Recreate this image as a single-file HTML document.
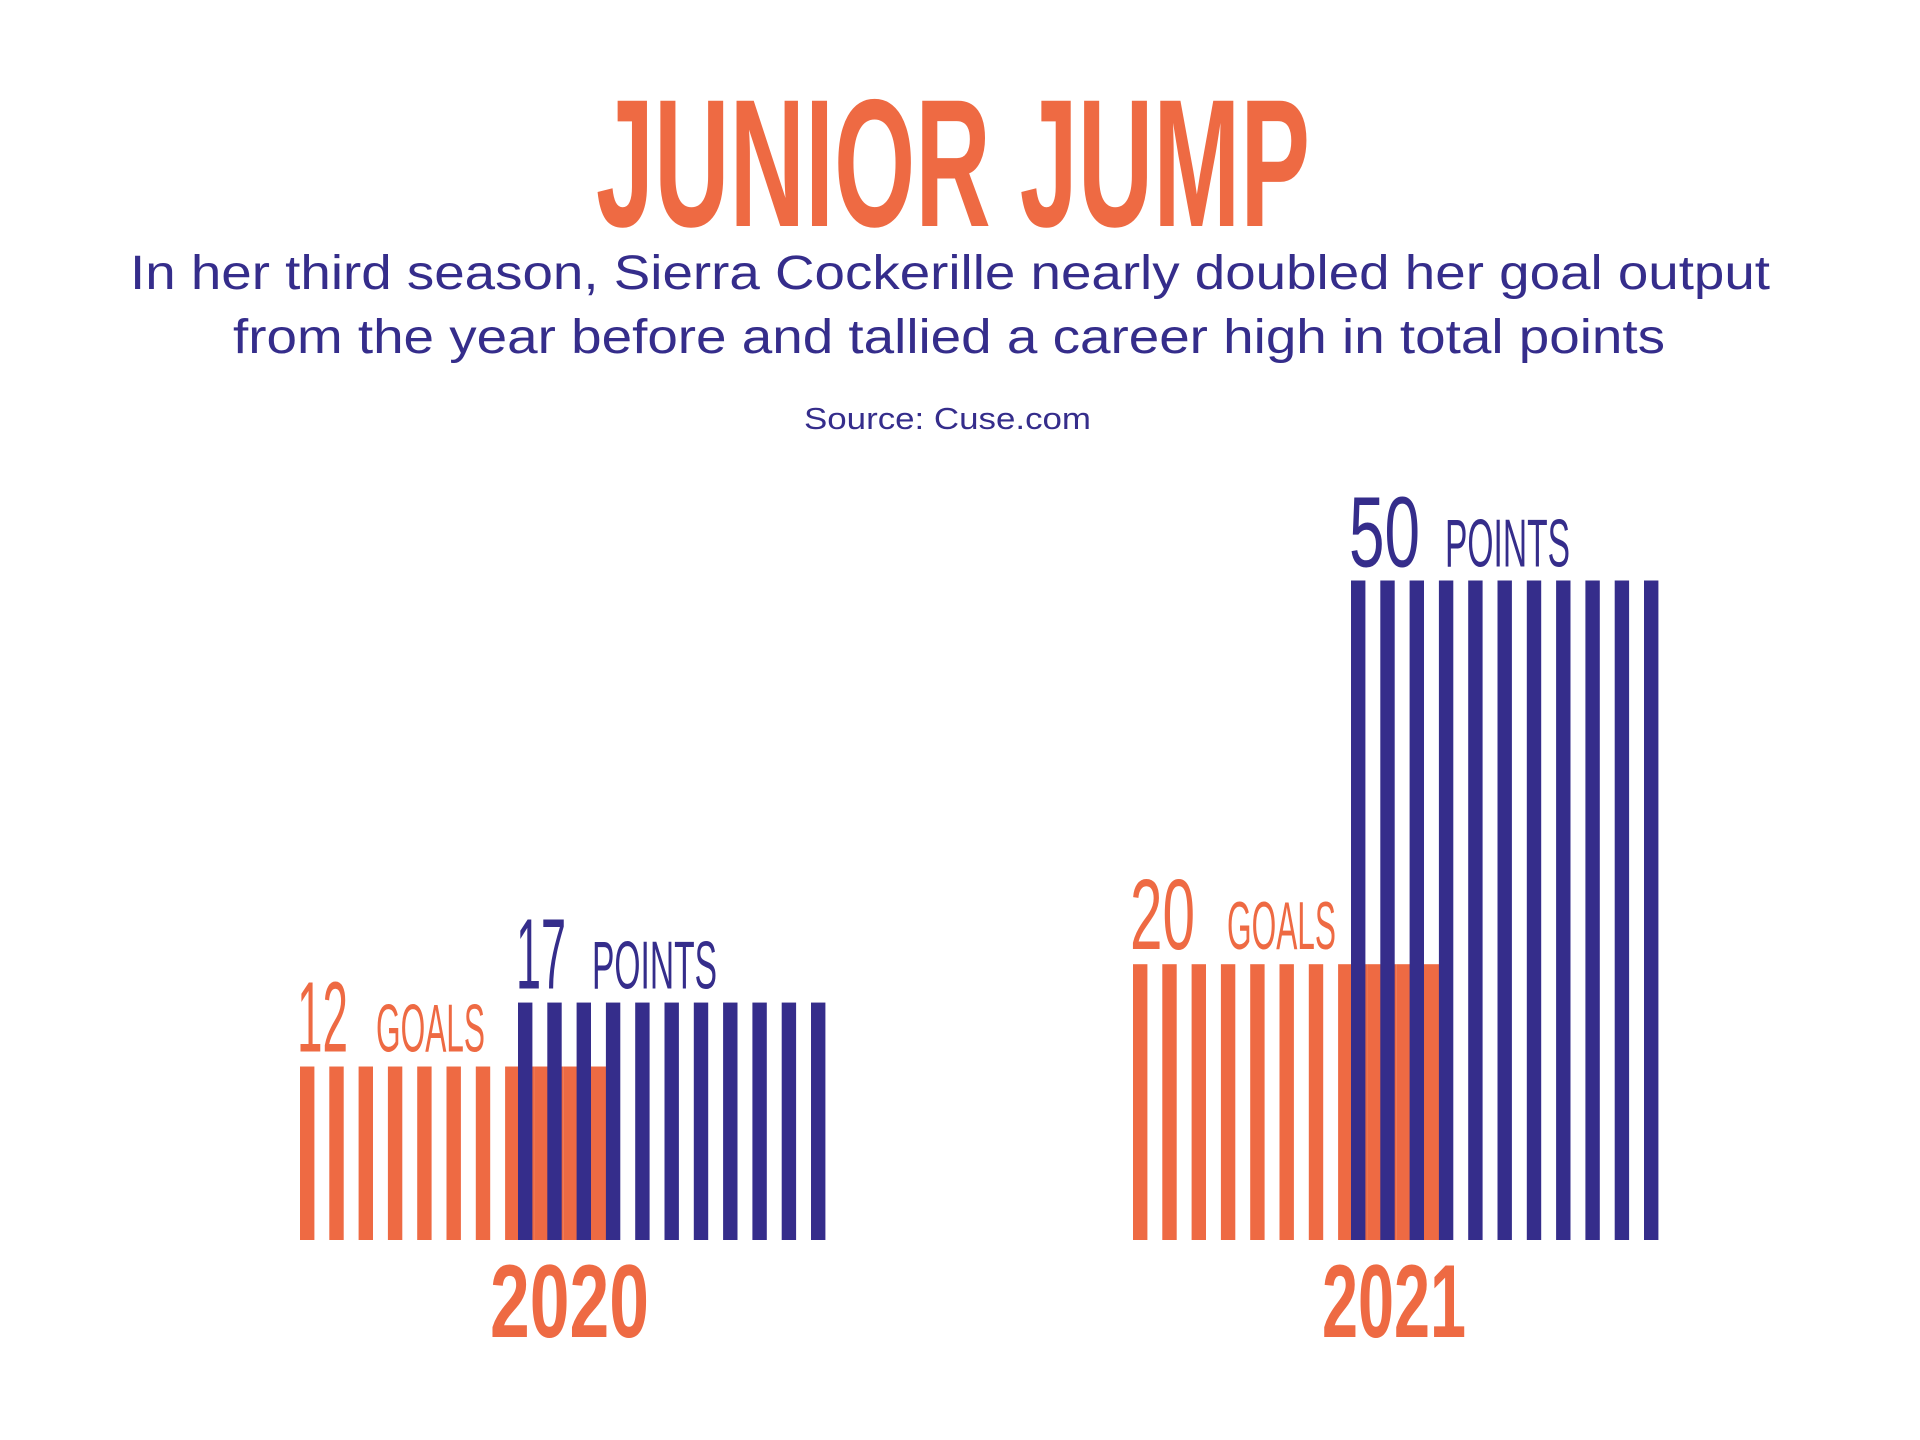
<!DOCTYPE html>
<html>
<head>
<meta charset="utf-8">
<style>
  html,body{margin:0;padding:0;background:#fff;}
  body{width:1920px;height:1440px;overflow:hidden;}
  svg{display:block;}
</style>
</head>
<body>
<svg id="chart" width="1920" height="1440" viewBox="0 0 1920 1440" xmlns="http://www.w3.org/2000/svg">
  <rect x="0" y="0" width="1920" height="1440" fill="#ffffff"/>
  <text x="596" y="226" font-family="Liberation Sans Narrow, Liberation Sans, sans-serif" font-weight="bold" font-size="182" fill="#ee6a43" textLength="714" lengthAdjust="spacingAndGlyphs">JUNIOR JUMP</text>
  <text x="130" y="289" font-family="Liberation Sans, sans-serif" font-size="48" fill="#352d8b" textLength="1640" lengthAdjust="spacingAndGlyphs">In her third season, Sierra Cockerille nearly doubled her goal output</text>
  <text x="233" y="353" font-family="Liberation Sans, sans-serif" font-size="48" fill="#352d8b" textLength="1432" lengthAdjust="spacingAndGlyphs">from the year before and tallied a career high in total points</text>
  <text x="804" y="429" font-family="Liberation Sans, sans-serif" font-size="31" fill="#352d8b" textLength="287" lengthAdjust="spacingAndGlyphs">Source:  Cuse.com</text>
  <g id="bars"></g>
</svg>
<script>
const years = ["2020", "2021"];
const goals = [12, 20];
const points = [17, 50];
const goalLabel = "GOALS";
const pointLabel = "POINTS";

const NS = "http://www.w3.org/2000/svg";
const layer = document.getElementById("bars");
const baseline = 1240;
const pxPerUnit = 12.79;
const pxOffset = 20;
const groupLeft = [300, 1133];
const pitch = 29.3, barW = 14.4, nBars = 11, blueOffset = 218;
const ORANGE = "#ee6a43", NAVY = "#352d8b";
function yScale(v){ return baseline - (pxOffset + v * pxPerUnit); }

function addText(txt, x, y, size, w, color){
  const t = document.createElementNS(NS, "text");
  t.setAttribute("x", x); t.setAttribute("y", y);
  t.setAttribute("font-family", "Liberation Sans Narrow, Liberation Sans, sans-serif");
  t.setAttribute("font-size", size);
  t.setAttribute("fill", color);
  t.setAttribute("textLength", w);
  t.setAttribute("lengthAdjust", "spacingAndGlyphs");
  t.textContent = txt;
  layer.appendChild(t);
  return t;
}

years.forEach((yr, gi) => {
  const x0 = groupLeft[gi];
  const gTop = yScale(goals[gi]);
  const pTop = yScale(points[gi]);
  for (let i = 0; i < nBars; i++) {
    const r = document.createElementNS(NS, "rect");
    r.setAttribute("x", x0 + i * pitch);
    r.setAttribute("y", gTop);
    r.setAttribute("width", (i >= 7 && i < nBars - 1) ? pitch : barW);
    r.setAttribute("height", baseline - gTop);
    r.setAttribute("fill", ORANGE);
    
    
    layer.appendChild(r);
  }
  for (let i = 0; i < nBars; i++) {
    const r = document.createElementNS(NS, "rect");
    r.setAttribute("x", x0 + blueOffset + i * pitch);
    r.setAttribute("y", pTop);
    r.setAttribute("width", barW);
    r.setAttribute("height", baseline - pTop);
    r.setAttribute("fill", NAVY);
    
    
    layer.appendChild(r);
  }
  let t = addText(String(goals[gi]), x0 - 3, gTop - 15, 100, gi === 1 ? 65 : 51, ORANGE);
  
  
  t = addText(goalLabel, x0 + (gi === 1 ? 94 : 76), gTop - 15, 68, 109, ORANGE);
  
  
  const nW = String(points[gi]).length * 25 + (gi === 1 ? 21 : 0);
  t = addText(String(points[gi]), x0 + blueOffset - 2, pTop - 14, 100, nW, NAVY);
  
  
  t = addText(pointLabel, x0 + blueOffset + 74 + (gi === 1 ? 20 : 0), pTop - 14, 68, 125, NAVY);
  
  
  t = addText(yr, x0 + (gi === 0 ? 190 : 189), 1337, 104, gi === 0 ? 159 : 144, ORANGE);
  t.setAttribute("font-weight", "bold");
  
  
});
</script>
</body>
</html>
